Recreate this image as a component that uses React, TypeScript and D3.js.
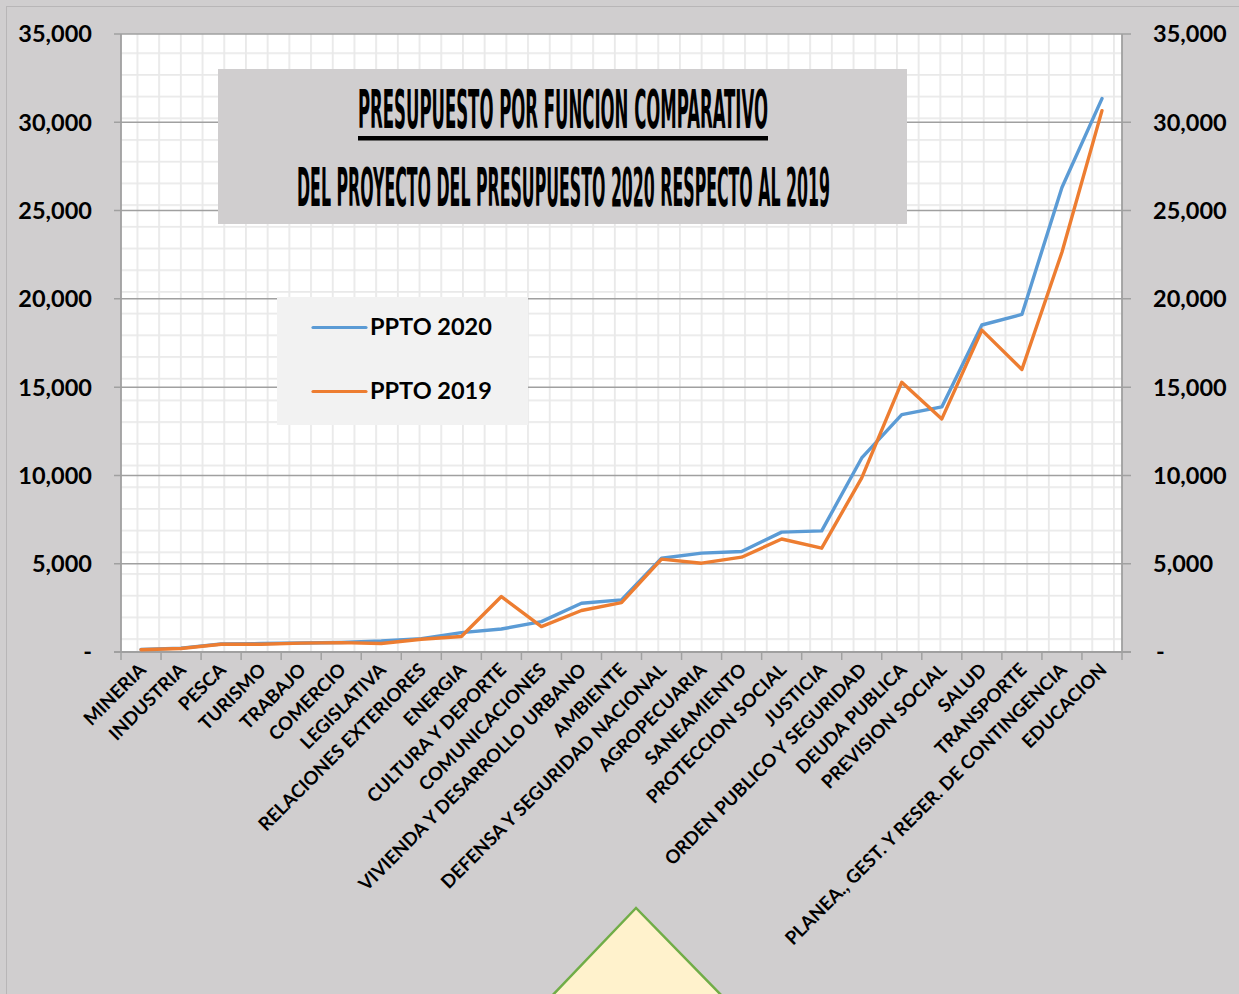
import { useMemo } from "react";
import * as d3 from "d3";

const W = 1239;
const H = 994;

const categories = [
  "MINERIA", "INDUSTRIA", "PESCA", "TURISMO", "TRABAJO", "COMERCIO", "LEGISLATIVA",
  "RELACIONES EXTERIORES", "ENERGIA", "CULTURA Y DEPORTE", "COMUNICACIONES",
  "VIVIENDA Y DESARROLLO URBANO", "AMBIENTE", "DEFENSA Y SEGURIDAD NACIONAL",
  "AGROPECUARIA", "SANEAMIENTO", "PROTECCION SOCIAL", "JUSTICIA",
  "ORDEN PUBLICO Y SEGURIDAD", "DEUDA PUBLICA", "PREVISION SOCIAL", "SALUD",
  "TRANSPORTE", "PLANEA., GEST. Y RESER. DE CONTINGENCIA", "EDUCACION",
];

const ppto2020 = [
  150, 220, 450, 480, 510, 540, 620, 760, 1100, 1300, 1720, 2760, 2950,
  5310, 5600, 5690, 6790, 6860, 10990, 13440, 13880, 18520, 19120, 26310, 31340,
];
const ppto2019 = [
  130, 200, 440, 440, 500, 530, 480, 720, 880, 3140, 1440, 2350, 2800,
  5260, 5030, 5370, 6400, 5880, 9860, 15280, 13200, 18230, 16000, 22640, 30660,
];

const yTicks = [0, 5000, 10000, 15000, 20000, 25000, 30000, 35000];

const titleLines = [
  "PRESUPUESTO POR FUNCION COMPARATIVO",
  "DEL PROYECTO DEL PRESUPUESTO 2020 RESPECTO AL 2019",
];

const series = [
  { name: "PPTO 2020", values: ppto2020, color: "#5b9bd5" },
  { name: "PPTO 2019", values: ppto2019, color: "#ed7d31" },
];

const MARGIN = { top: 34, right: 117, bottom: 342, left: 121 };
const FONT = "Lato, 'Open Sans', 'Liberation Sans', sans-serif";
const AXIS = "#a0a0a0";

export default function App() {
  const boundsWidth = W - MARGIN.left - MARGIN.right;
  const boundsHeight = H - MARGIN.top - MARGIN.bottom;

  const xScale = useMemo(
    () => d3.scaleBand().domain(categories).range([0, boundsWidth]).padding(0),
    [boundsWidth]
  );
  const yScale = useMemo(
    () => d3.scaleLinear().domain([0, 35000]).range([boundsHeight, 0]),
    [boundsHeight]
  );

  const fmt = d3.format(",");
  const tickLabel = (v: number) => (v === 0 ? "-" : fmt(v));

  const line = d3
    .line<number>()
    .x((_, i) => (xScale(categories[i]) ?? 0) + xScale.bandwidth() / 2)
    .y((d) => yScale(d));

  return (
    <svg
      width={W}
      height={H}
      style={{ position: "absolute", left: 0, top: 0 }}
      fontFamily={FONT}
    >
      <defs>
        <pattern
          id="grid"
          patternUnits="userSpaceOnUse"
          x={MARGIN.left + 3}
          y={MARGIN.top + 6}
          width={21.7}
          height={21.7}
        >
          <rect width={21.7} height={21.7} fill="#ffffff" />
          <path d="M0.9,0 V21.7 M0,0.9 H21.7" stroke="#e9e9e9" strokeWidth={1.8} />
        </pattern>
      </defs>

      <rect x={0} y={0} width={W} height={H} fill="#d0cecf" />
      <rect x={6.5} y={6.5} width={W} height={H} fill="none" stroke="#b8b6b7" strokeWidth={1} />

      {/* decorative triangle */}
      <path
        d="M636,908 L548,1000 L726,1000 Z"
        fill="#fff2cc"
        stroke="#70ad47"
        strokeWidth={2.5}
      />

      <g transform={`translate(${MARGIN.left},${MARGIN.top})`}>
        <rect x={0} y={0} width={boundsWidth} height={boundsHeight} fill="url(#grid)" />

        {/* major gridlines */}
        {yTicks.filter((t) => t > 0).map((t) => (
          <line
            key={t}
            x1={-7}
            x2={boundsWidth + 9}
            y1={yScale(t)}
            y2={yScale(t)}
            stroke={AXIS}
            strokeWidth={1.5}
          />
        ))}

        {/* axes */}
        <line x1={0} x2={0} y1={0} y2={boundsHeight} stroke={AXIS} strokeWidth={1.8} />
        <line x1={boundsWidth} x2={boundsWidth} y1={0} y2={boundsHeight} stroke={AXIS} strokeWidth={1.8} />
        <line x1={-7} x2={boundsWidth + 9} y1={boundsHeight} y2={boundsHeight} stroke={AXIS} strokeWidth={1.8} />

        {categories.map((c, i) => (
          <line
            key={"t" + i}
            x1={xScale(c) ?? 0}
            x2={xScale(c) ?? 0}
            y1={boundsHeight}
            y2={boundsHeight + 8}
            stroke={AXIS}
            strokeWidth={1.5}
          />
        ))}
        <line
          x1={boundsWidth}
          x2={boundsWidth}
          y1={boundsHeight}
          y2={boundsHeight + 8}
          stroke={AXIS}
          strokeWidth={1.5}
        />

        {/* y labels, both sides */}
        {yTicks.map((t) => (
          <g key={"l" + t}>
            <text
              x={-29}
              y={yScale(t)}
              dy="0.36em"
              textAnchor="end"
              fontSize={23.5}
              fontWeight={700}
              fill="#000"
            >
              {tickLabel(t)}
            </text>
            <text
              x={t === 0 ? boundsWidth + 34 : boundsWidth + 31}
              y={yScale(t)}
              dy="0.36em"
              textAnchor="start"
              fontSize={23.5}
              fontWeight={700}
              fill="#000"
            >
              {tickLabel(t)}
            </text>
          </g>
        ))}

        {/* x labels */}
        {categories.map((c) => {
          const cx = (xScale(c) ?? 0) + xScale.bandwidth() / 2 + 6;
          const cy = boundsHeight + 19;
          return (
            <text
              key={"x" + c}
              transform={`translate(${cx},${cy}) rotate(-45)`}
              textAnchor="end"
              fontSize={18.6}
              fontWeight={700}
              fill="#000"
            >
              {c}
            </text>
          );
        })}

        {/* lines */}
        {series.map((s) => (
          <path
            key={s.name}
            d={line(s.values) ?? ""}
            fill="none"
            stroke={s.color}
            strokeWidth={3.4}
            strokeLinejoin="round"
            strokeLinecap="round"
          />
        ))}
      </g>

      {/* title box */}
      <rect x={218} y={69} width={689} height={155} fill="#d0cecf" />
      <text
        x={358}
        y={128}
        textLength={410}
        lengthAdjust="spacingAndGlyphs"
        fontFamily="'Liberation Sans Narrow', 'DejaVu Sans Condensed', 'Liberation Sans', sans-serif"
        fontSize={53}
        fontWeight={700}
        fill="#000"
      >
        {titleLines[0]}
      </text>
      <rect x={358} y={136} width={410} height={4.5} fill="#000" />
      <text
        x={297}
        y={206}
        textLength={533}
        lengthAdjust="spacingAndGlyphs"
        fontFamily="'Liberation Sans Narrow', 'DejaVu Sans Condensed', 'Liberation Sans', sans-serif"
        fontSize={53}
        fontWeight={700}
        fill="#000"
      >
        {titleLines[1]}
      </text>

      {/* legend */}
      <rect x={277} y={297} width={251} height={128} fill="#f2f2f2" />
      {series.map((s, i) => (
        <g key={"lg" + s.name} transform={`translate(0,${i * 64})`}>
          <line x1={313} x2={366} y1={327.5} y2={327.5} stroke={s.color} strokeWidth={3.2} strokeLinecap="round" />
          <text x={370} y={335} fontSize={23.5} fontWeight={700} fill="#000">
            {s.name}
          </text>
        </g>
      ))}
    </svg>
  );
}
